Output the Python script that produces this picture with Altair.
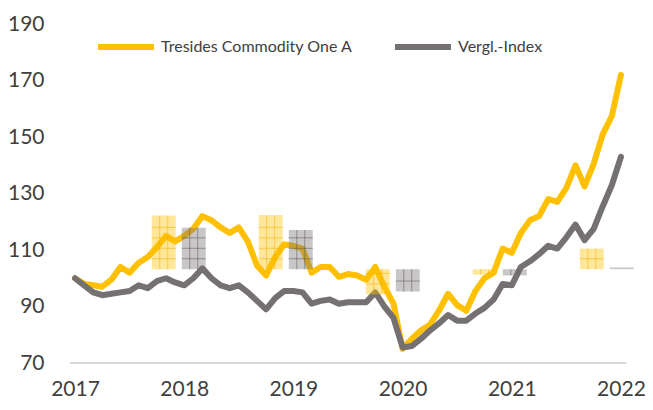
import altair as alt
import pandas as pd

# ---- data ----
series_names = ["Tresides Commodity One A", "Vergl.-Index"]
line_colors = ["#FFC000", "#767171"]

# monthly index values, Jan 2017 .. Jan 2022 (61 points)
fund_values = [
    100, 98, 97.5, 97, 99.5, 104, 102, 105.5, 107.5, 111, 115, 113,
    115, 117.5, 122, 120.5, 118, 116, 118, 113, 104.5, 101, 107.5, 112,
    111.5, 110.5, 102, 104, 104, 100.5, 101.5, 101, 99.5, 104, 97, 91,
    75, 78.5, 81.5, 83.5, 88.5, 94.5, 90.5, 88.5, 95.5, 100, 102, 110.5,
    109, 116, 120.5, 122, 128, 127, 132, 140, 132.5, 140.5, 151, 157.5,
    172,
]
index_values = [
    100, 97.5, 95, 94, 94.5, 95, 95.5, 97.5, 96.5, 99, 100, 98.5,
    97.5, 100, 103.5, 100, 97.5, 96.5, 97.5, 95, 92, 89, 93, 95.5,
    95.5, 95, 91, 92, 92.5, 91, 91.5, 91.5, 91.5, 95, 90, 86,
    75.5, 76, 78.5, 81.5, 84, 87, 85, 85, 87.5, 89.5, 92.5, 98,
    97.5, 104, 106, 108.5, 111.5, 110.5, 114.5, 119, 113.5, 117.5, 125.5, 133,
    143,
]

# annual bars (drawn around a base level on the same axis)
bar_years = [2017, 2018, 2019, 2020, 2021]
fund_bar = [19.0, 19.2, -8.9, -1.9, 7.3]
index_bar = [14.7, 13.9, -7.9, -2.2, 0.6]
bar_base = 103.2

y_ticks = [70, 90, 110, 130, 150, 170, 190]
x_ticks = [2017, 2018, 2019, 2020, 2021, 2022]

# ---- tables ----
rows = []
for name, vals in zip(series_names, [fund_values, index_values]):
    for m, v in enumerate(vals):
        rows.append({"t": 2017 + m / 12.0, "value": v, "series": name})
lines_df = pd.DataFrame(rows)

brows = []
for k, yr in enumerate(bar_years):
    center = 2017.95 + 0.98 * k
    brows.append({"series": series_names[0], "x": center - 0.247, "x2": center - 0.028,
                  "y": bar_base, "y2": bar_base + fund_bar[k]})
    brows.append({"series": series_names[1], "x": center + 0.028, "x2": center + 0.247,
                  "y": bar_base, "y2": bar_base + index_bar[k]})
bars_df = pd.DataFrame(brows)

# grid texture inside the bars (derived from the bar extents)
tex = []
for _, b in bars_df.iterrows():
    lo, hi = min(b["y"], b["y2"]), max(b["y"], b["y2"])
    if hi - lo < 1.5:
        continue
    for f in (1 / 3.0, 2 / 3.0):
        xv = b["x"] + (b["x2"] - b["x"]) * f
        tex.append({"series": b["series"], "x": xv, "x2": xv, "y": lo, "y2": hi})
    j = 1
    while j * 3.7 < hi - lo - 0.8:
        yv = lo + j * 3.7
        tex.append({"series": b["series"], "x": b["x"], "x2": b["x2"], "y": yv, "y2": yv})
        j += 1
tex_df = pd.DataFrame(tex)

grid_df = pd.DataFrame({"x": [2016.955], "x2": [2022.05], "y": [70]})

xscale = alt.Scale(domain=[2016.826, 2022.22], zero=False, nice=False)
yscale = alt.Scale(domain=[70, 190], zero=False, nice=False)

xaxis = alt.Axis(values=x_ticks, format="d", grid=False, ticks=False, domain=False,
                 labelFontSize=21, labelColor="#404040", labelPadding=15,
                 labelFlush=False, title=None, labelFont="Lato")
yaxis = alt.Axis(values=y_ticks, grid=False, ticks=False, domain=False,
                 labelFontSize=21, labelColor="#404040", labelPadding=12,
                 title=None, labelFont="Lato")

grid = alt.Chart(grid_df).mark_rule(color="#D9D9D9", strokeWidth=2).encode(
    x=alt.X("x:Q", scale=xscale, axis=xaxis),
    x2="x2:Q",
    y=alt.Y("y:Q", scale=yscale, axis=yaxis),
)

lines = alt.Chart(lines_df).mark_line(strokeWidth=6, strokeCap="round", strokeJoin="round").encode(
    x=alt.X("t:Q", scale=xscale, axis=xaxis),
    y=alt.Y("value:Q", scale=yscale, axis=yaxis),
    color=alt.Color("series:N", sort=series_names,
                    scale=alt.Scale(domain=series_names, range=line_colors),
                    legend=alt.Legend(orient="none", legendX=39, legendY=-8, direction="horizontal",
                                      title=None, symbolType="stroke", symbolStrokeWidth=6,
                                      symbolSize=3136, labelFontSize=16, labelFont="Lato",
                                      labelLimit=400, labelColor="#404040", columnPadding=30,
                                      labelOffset=4)),
    detail="series:N",
    order="t:Q",
)


def bar_layer(name, color):
    return alt.Chart(bars_df).transform_filter(
        alt.datum.series == name
    ).mark_rect(color=color, opacity=0.4).encode(
        x=alt.X("x:Q", scale=xscale, axis=xaxis), x2="x2:Q",
        y=alt.Y("y:Q", scale=yscale, axis=yaxis), y2="y2:Q",
    )


def tex_layer(name, color):
    return alt.Chart(tex_df).transform_filter(
        alt.datum.series == name
    ).mark_rule(color=color, opacity=0.55, strokeWidth=1).encode(
        x=alt.X("x:Q", scale=xscale, axis=xaxis), x2="x2:Q",
        y=alt.Y("y:Q", scale=yscale, axis=yaxis), y2="y2:Q",
    )


chart = alt.layer(
    grid, lines,
    bar_layer(series_names[0], "#FFC000"), tex_layer(series_names[0], "#F2B000"),
    bar_layer(series_names[1], "#767171"), tex_layer(series_names[1], "#5F5B5B"),
).properties(
    width=589, height=339,
    autosize=alt.AutoSizeParams(type="none"),
    padding={"left": 48, "top": 16, "right": 0, "bottom": 38},
).configure_view(stroke=None)

chart.save("out.html", embed_options={"renderer": "svg", "actions": False})
